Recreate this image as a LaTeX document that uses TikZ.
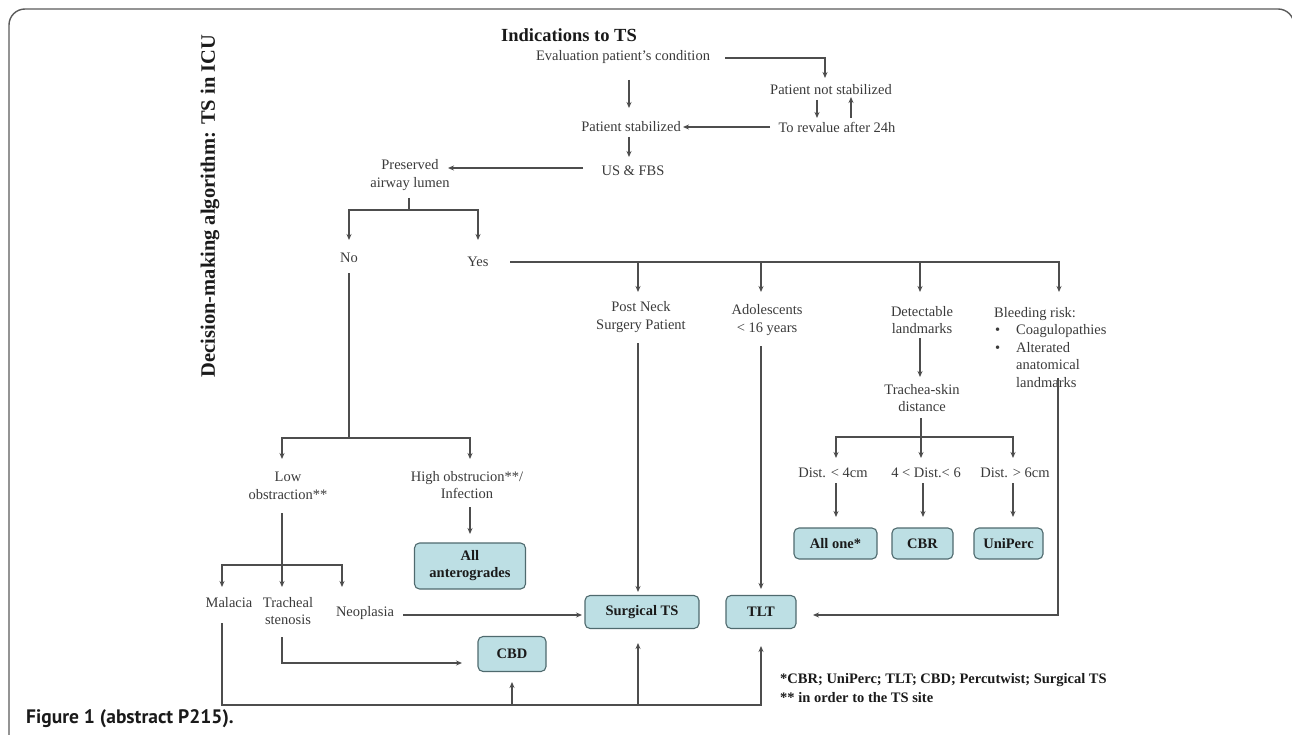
\documentclass[tikz,border=0pt]{standalone}
\usepackage{fontspec}
\setmainfont{Liberation Serif}
\newfontfamily\capfont{PT Sans}
\usetikzlibrary{calc,arrows.meta}
\definecolor{linegray}{HTML}{4D4D4D}
\definecolor{txtgray}{HTML}{3A3A3A}
\definecolor{boldtxt}{HTML}{1A1A1A}
\definecolor{boxfill}{HTML}{BDDFE4}
\definecolor{boxborder}{HTML}{4F6A6E}
\definecolor{framecol}{HTML}{5A5A5A}
\begin{document}
\begin{tikzpicture}[x=1pt,y=-1pt,
  txt/.style={font=\fontsize{14.5}{17.5}\selectfont, text=txtgray, inner sep=0pt, align=center},
  bx/.style={draw=boxborder, fill=boxfill, rounded corners=5pt, line width=1.1pt,
    font=\bfseries\fontsize{14.5}{17}\selectfont, text=boldtxt, align=center, inner sep=0pt},
  arr/.style={draw=linegray, line width=1.2pt, -{Stealth[length=6pt,width=5pt]}},
  ln/.style={draw=linegray, line width=1.2pt}]
\useasboundingbox (0,0) rectangle (1292,735);
\draw[framecol, line width=1.4pt, rounded corners=16pt] (9,745) -- (9,9) -- (1294,9) -- (1294,745);

% texts
\node[txt, font=\bfseries\fontsize{18.5}{20}\selectfont, text=boldtxt] (title) at (569,35) {Indications to TS};
\node[txt] (eval) at (623,57) {Evaluation patient's condition};
\node[txt] (notstab) at (831,90) {Patient not stabilized};
\node[txt] (stab) at (631,127) {Patient stabilized};
\node[txt] (reval) at (837,127) {To revalue after 24h};
\node[txt] (usfbs) at (633,171) {US \& FBS};
\node[txt] (pres) at (410,175) {Preserved\\airway lumen};
\node[txt] (no) at (349,258) {No};
\node[txt] (yes) at (478,262) {Yes};
\node[txt] (postneck) at (641,317) {Post Neck\\Surgery Patient};
\node[txt] (adol) at (767,320) {Adolescents\\\textless{} 16 years};
\node[txt] (detect) at (922,320) {Detectable\\landmarks};
\node[txt, anchor=north west, align=left] (bleed) at (994,307) {Bleeding risk:\\
\makebox[22pt][l]{\hspace*{1pt}\textbullet}Coagulopathies\\
\makebox[22pt][l]{\hspace*{1pt}\textbullet}Alterated\\
\hspace*{22pt}anatomical\\
\hspace*{22pt}landmarks};
\node[txt] (trachea) at (922,398) {Trachea-skin\\distance};
\node[txt] (d4) at (833,473) {Dist. \textless{} 4cm};
\node[txt] (d46) at (926,473) {4 \textless{} Dist.\textless{} 6};
\node[txt] (d6) at (1015,473) {Dist. \textgreater{} 6cm};
\node[txt] (low) at (288,486) {Low\\obstraction**};
\node[txt] (high) at (467,485) {High obstrucion**/\\Infection};
\node[txt] (malacia) at (229,603) {Malacia};
\node[txt] (trach) at (288,611) {Tracheal\\stenosis};
\node[txt] (neo) at (365,613) {Neoplasia};
\node[txt, anchor=north west, align=left, font=\bfseries\fontsize{14.5}{19}\selectfont, text=boldtxt] (foot) at (780,673)
  {*CBR; UniPerc; TLT; CBD; Percutwist; Surgical TS\\** in order to the TS site};
\node[txt, rotate=90, font=\bfseries\fontsize{20.5}{22}\selectfont, text=boldtxt] (vtitle) at (210,206) {Decision-making algorithm: TS in ICU};
\node[anchor=west, inner sep=0pt, font=\capfont\bfseries\fontsize{19.5}{22}\selectfont, text=boldtxt] (cap) at (26,719) {Figure 1 (abstract P215).};

% boxes
\node[bx, minimum width=83pt, minimum height=31pt] (allone) at (835.5,543.5) {All one*};
\node[bx, minimum width=61pt, minimum height=31pt] (cbr) at (922.5,543.5) {CBR};
\node[bx, minimum width=69pt, minimum height=31pt] (uniperc) at (1008.5,543.5) {UniPerc};
\node[bx, minimum width=70pt, minimum height=33pt] (tlt) at (761,612) {TLT};
\node[bx, minimum width=114pt, minimum height=33pt] (surg) at (642,612) {Surgical TS};
\node[bx, minimum width=68pt, minimum height=35pt] (cbd) at (512,654) {CBD};
\node[bx, minimum width=111pt, minimum height=46pt] (ante) at (470,566) {All\\anterogrades};

% connectors
\draw[arr] ($(eval)+(102,1)$) -| ($(notstab)+(-6,-12)$);
\draw[arr] ($(eval)+(6,23)$) -- ($(stab)+(-2,-19)$);
\draw[arr] ($(notstab)+(-14,10)$) -- ($(reval)+(-20,-9)$);
\draw[arr] ($(reval)+(14,-9)$) -- ($(notstab)+(20,7)$);
\draw[arr] ($(reval)+(-67,0)$) -- ($(stab)+(52,0)$);
\draw[arr] ($(stab)+(-2,10)$) -- ($(usfbs)+(-4,-14)$);
\draw[arr] ($(usfbs)+(-50,-3)$) -- ($(pres)+(38,-7)$);
\coordinate (s1) at (409,210);
\draw[ln] ($(pres)+(-1,23)$) -- (s1);
\draw[arr] (s1) -| ($(no)+(0,-18)$);
\draw[arr] (s1) -| ($(yes)+(0,-22)$);
\coordinate (s2) at (349,438);
\draw[ln] ($(no)+(0,15)$) -- (s2);
\draw[arr] (s2) -| ($(low)+(-6,-27)$);
\draw[arr] (s2) -| ($(high)+(3,-26)$);
\draw[arr] ($(yes)+(32,0)$) -| ($(bleed.north west)+(65,-15)$);
\draw[arr] ($(yes)+(160,0)$) -- ($(postneck)+(-3,-25)$);
\draw[arr] ($(yes)+(283,0)$) -- ($(adol)+(-6,-28)$);
\draw[arr] ($(yes)+(442,0)$) -- ($(detect)+(-2,-28)$);
\draw[arr] ($(postneck)+(-3,26)$) -- ($(surg)+(-4,-20)$);
\draw[arr] ($(adol)+(-6,26)$) -- ($(tlt)+(0,-23)$);
\draw[arr] ($(detect)+(-2,18)$) -- ($(trachea)+(-2,-21)$);
\coordinate (s3) at (921,437);
\draw[ln] ($(trachea)+(-1,20)$) -- (s3);
\draw[arr] (s3) -| ($(d4)+(3,-15)$);
\draw[arr] (s3) -- ($(d46)+(-5,-15)$);
\draw[arr] (s3) -| ($(d6)+(-2,-15)$);
\draw[arr] ($(d4)+(3,10)$) -- ($(allone)+(0.5,-26.5)$);
\draw[arr] ($(d46)+(-3,10)$) -- ($(cbr)+(0.5,-26.5)$);
\draw[arr] ($(d6)+(-2,10)$) -- ($(uniperc)+(4.5,-26.5)$);
\draw[arr] ($(high)+(3,22)$) -- ($(ante)+(0,-32)$);
\coordinate (s4) at (282,565);
\draw[ln] ($(low)+(-6,27)$) -- (s4);
\draw[arr] (s4) -| ($(malacia)+(-7,-16)$);
\draw[arr] (s4) -- ($(trach)+(-6,-24)$);
\draw[arr] (s4) -| ($(neo)+(-23,-26)$);
\draw[arr] ($(neo)+(38,2)$) -- ($(surg)+(-60,3)$);
\draw[arr] ($(trach)+(-6,26)$) |- ($(cbd)+(-50,9)$);
\draw[arr] ($(malacia)+(-7,20)$) |- ($(tlt)+(0,93)$) -- ($(tlt)+(0,34)$);
\draw[arr] ($(cbd)+(0,51)$) -- ($(cbd)+(0,28)$);
\draw[arr] ($(surg)+(-4,93)$) -- ($(surg)+(-4,31)$);
\draw[arr] ($(bleed.north west)+(64,71)$) |- ($(tlt)+(52,3)$);
\end{tikzpicture}
\end{document}
